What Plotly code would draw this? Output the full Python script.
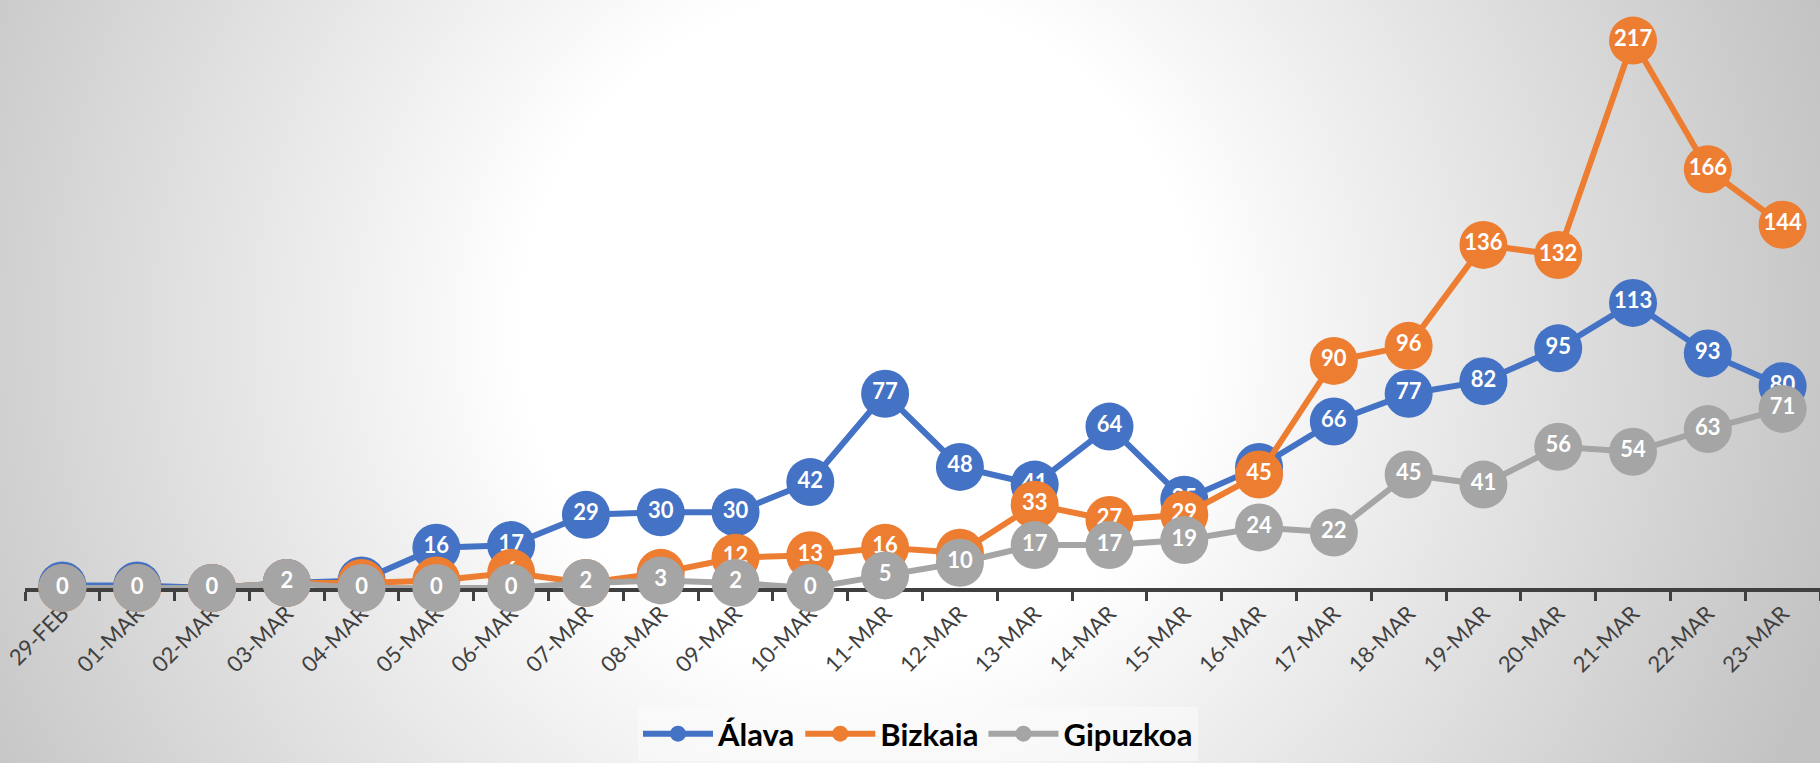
import base64

import plotly.graph_objects as go


# ==========================================================
# Data
# ==========================================================
dates = [
    "29-FEB", "01-MAR", "02-MAR", "03-MAR", "04-MAR", "05-MAR", "06-MAR",
    "07-MAR", "08-MAR", "09-MAR", "10-MAR", "11-MAR", "12-MAR", "13-MAR",
    "14-MAR", "15-MAR", "16-MAR", "17-MAR", "18-MAR", "19-MAR", "20-MAR",
    "21-MAR", "22-MAR", "23-MAR",
]

alava = [1, 1, 0, 2, 3, 16, 17, 29, 30, 30, 42, 77, 48, 41, 64, 35, 48, 66,
         77, 82, 95, 113, 93, 80]
bizkaia = [0, 0, 0, 2, 2, 3, 6, 2, 6, 12, 13, 16, 14, 33, 27, 29, 45, 90,
           96, 136, 132, 217, 166, 144]
gipuzkoa = [0, 0, 0, 2, 0, 0, 0, 2, 3, 2, 0, 5, 10, 17, 17, 19, 24, 22,
            45, 41, 56, 54, 63, 71]

series = [
    ("Álava", alava, "#4472c4"),
    ("Bizkaia", bizkaia, "#ed7d31"),
    ("Gipuzkoa", gipuzkoa, "#a5a5a5"),
]

# ==========================================================
# Page geometry
# ==========================================================
W, H = 1820, 763
ML, MR, MT, MB = 25, 0, 33, 175
PW = W - ML - MR
PH = H - MT - MB

# radial gradient background (Excel style)
svg = f"""<svg xmlns='http://www.w3.org/2000/svg' width='{W}' height='{H}'>
<defs><radialGradient id='g' gradientUnits='userSpaceOnUse' cx='860' cy='330' r='1020'>
<stop offset='0' stop-color='#ffffff'/>
<stop offset='0.33' stop-color='#ffffff'/>
<stop offset='1' stop-color='#c2c2c2'/>
</radialGradient></defs>
<rect width='{W}' height='{H}' fill='url(#g)'/></svg>"""
bg_src = "data:image/svg+xml;base64," + base64.b64encode(svg.encode()).decode()

# ==========================================================
# Figure
# ==========================================================
fig = go.Figure()

for name, values, color in series:
    fig.add_trace(go.Scatter(
        x=dates,
        y=values,
        name=name,
        mode="lines+markers+text",
        text=[str(v) for v in values],
        textposition="middle center",
        textfont=dict(family="Lato", size=22, color="white", weight="bold"),
        line=dict(color=color, width=6),
        marker=dict(color=color, size=48),
        cliponaxis=False,
    ))

fig.update_layout(
    width=W,
    height=H,
    margin=dict(l=ML, r=MR, t=MT, b=MB),
    paper_bgcolor="#d0d0d0",
    plot_bgcolor="rgba(0,0,0,0)",
    showlegend=True,
    legend=dict(
        orientation="h",
        x=(918 - ML) / PW,
        xanchor="center",
        y=(MT + PH - 734) / PH,
        yanchor="middle",
        bgcolor="rgba(252,252,252,0.55)",
        font=dict(family="Lato", size=31, color="black", weight="bold"),
        itemwidth=70,
    ),
    images=[dict(
        source=bg_src,
        xref="paper",
        yref="paper",
        x=-ML / PW,
        y=1 + MT / PH,
        sizex=W / PW,
        sizey=H / PH,
        sizing="stretch",
        xanchor="left",
        yanchor="top",
        layer="below",
    )],
    xaxis=dict(
        type="category",
        range=[-0.5, 23.5],
        showline=True,
        linecolor="#404040",
        linewidth=4,
        ticks="outside",
        tickson="boundaries",
        ticklen=9,
        tickwidth=3,
        tickcolor="#404040",
        tickangle=-45,
        tickfont=dict(family="Lato", size=22, color="#404040"),
        showgrid=False,
        zeroline=False,
        layer="below traces",
    ),
    yaxis=dict(
        range=[0, 220],
        visible=False,
        showgrid=False,
        zeroline=False,
    ),
)

fig.write_html(
    "out.html",
    config={"displayModeBar": False},
    post_script="document.body.style.margin='0';",
)
